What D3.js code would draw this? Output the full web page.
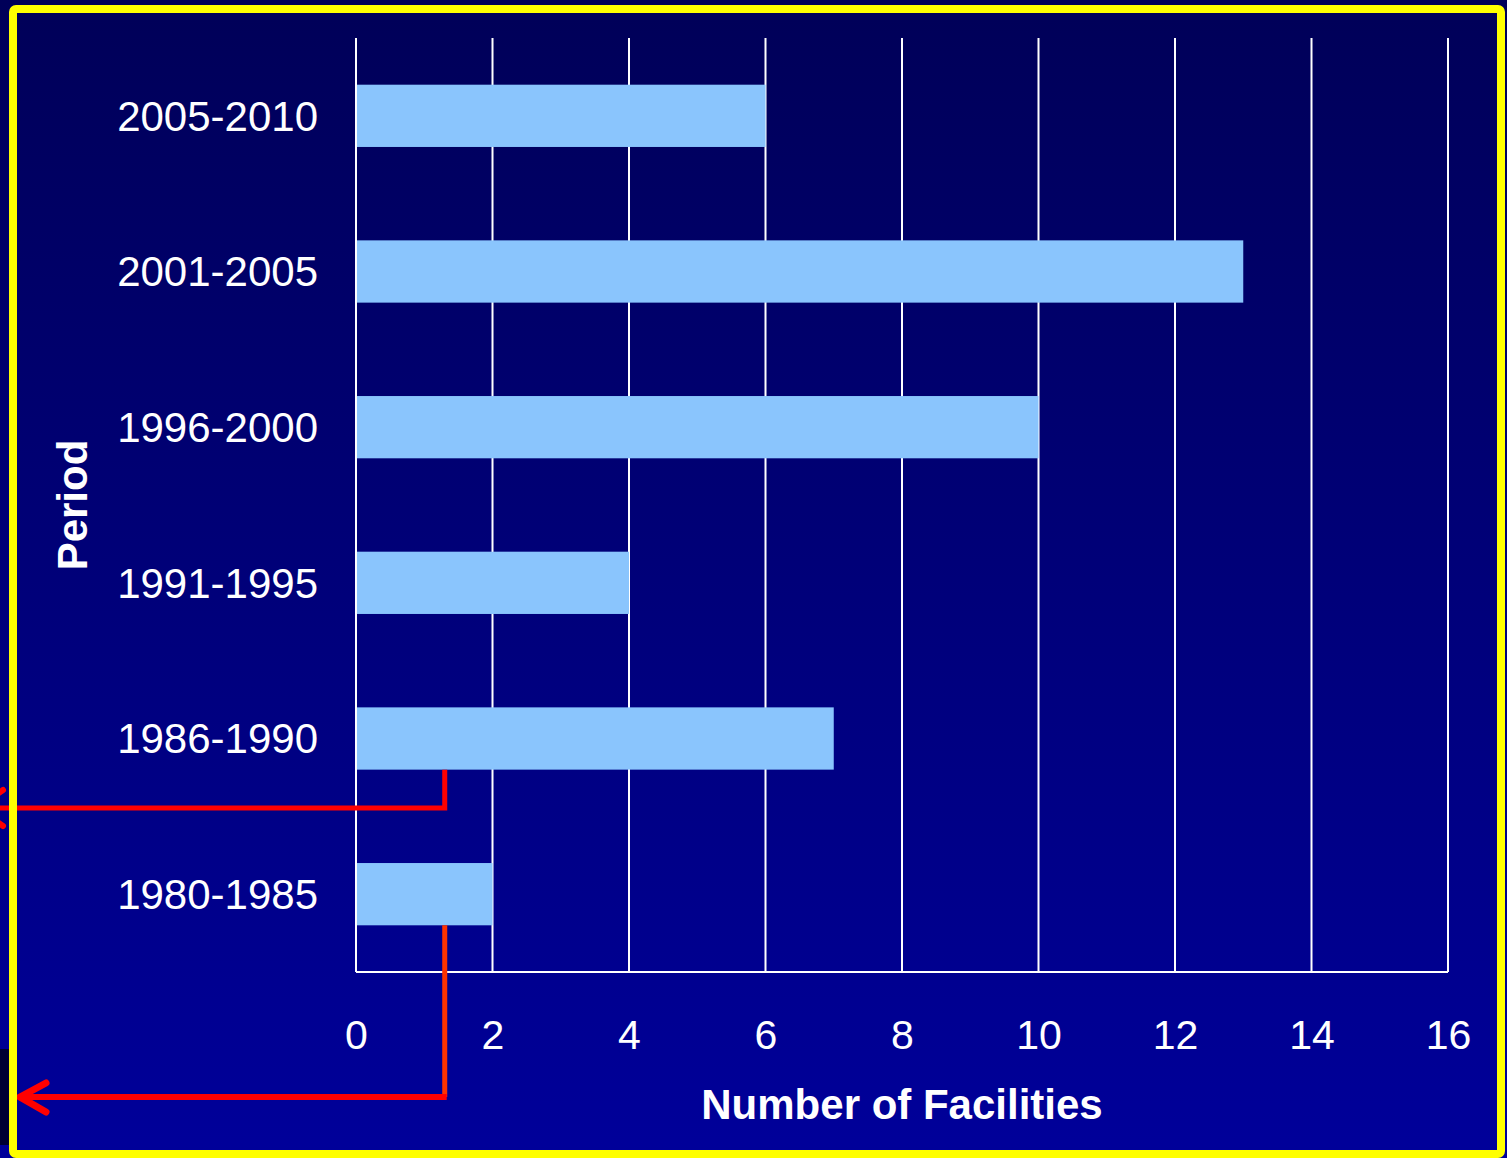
<!DOCTYPE html>
<html lang="en">
<head>
<meta charset="UTF-8">
<title>Facilities by period</title>
<script src="https://cdnjs.cloudflare.com/ajax/libs/d3/7.8.5/d3.min.js"></script>
<style>
    body { margin: 0; background: #00005a; }
    svg { display: block; }
    text { font-family: "Liberation Sans", Arial, sans-serif; fill: #fff; }
</style>
</head>
<body>
<script>
    // data
    var periods = ["2005-2010", "2001-2005", "1996-2000", "1991-1995", "1986-1990", "1980-1985"];
    var counts = [6, 13, 10, 4, 7, 2];
    var xTicks = [0, 2, 4, 6, 8, 10, 12, 14, 16];

    var W = 1507, H = 1158;
    var margin = { top: 38, right: 59, bottom: 186, left: 356 };
    var width = W - margin.left - margin.right,
        height = H - margin.top - margin.bottom;

    var svg = d3.select("body").append("svg")
        .attr("width", W)
        .attr("height", H);

    // background gradient
    var grad = svg.append("defs").append("linearGradient")
        .attr("id", "bg").attr("x1", 0).attr("y1", 0).attr("x2", 0).attr("y2", 1);
    grad.append("stop").attr("offset", "0%").attr("stop-color", "#000058");
    grad.append("stop").attr("offset", "100%").attr("stop-color", "#00009a");
    svg.append("rect").attr("width", W).attr("height", H).attr("fill", "url(#bg)");
    // dark strip bottom-left outside the frame
    svg.append("rect").attr("x", 0).attr("y", 1049).attr("width", 9).attr("height", 96).attr("fill", "#000033");

    var x = d3.scaleLinear().domain([0, 16]).range([0, width]);
    var y = d3.scaleBand().domain(periods).range([0, height]).paddingInner(0.6).paddingOuter(0.3);

    var g = svg.append("g").attr("transform", "translate(" + margin.left + "," + margin.top + ")");

    // vertical grid lines
    g.selectAll(".grid").data(xTicks).enter().append("line")
        .attr("x1", function(d) { return x(d); })
        .attr("x2", function(d) { return x(d); })
        .attr("y1", 0).attr("y2", height)
        .style("stroke", "#fff").style("stroke-width", 2);

    // bars
    g.selectAll(".bar").data(periods).enter().append("rect")
        .attr("x", x(0))
        .attr("y", function(d) { return y(d); })
        .attr("width", function(d, i) { return x(counts[i]); })
        .attr("height", y.bandwidth())
        .style("fill", "#8ac5fd");

    // axis lines
    g.append("line").attr("x1", 0).attr("x2", width).attr("y1", height).attr("y2", height)
        .style("stroke", "#fff").style("stroke-width", 2);
    g.append("line").attr("x1", 0).attr("x2", 0).attr("y1", 0).attr("y2", height)
        .style("stroke", "#fff").style("stroke-width", 2);

    // tick labels
    var xAxis = d3.axisBottom(x).tickValues(xTicks).tickSize(0).tickPadding(0);
    var xg = g.append("g").attr("transform", "translate(0," + height + ")").call(xAxis);
    xg.select(".domain").remove();
    xg.selectAll("text").attr("y", 77).attr("dy", 0)
        .style("font-size", "41px").style("fill", "#fff")
        .style("font-family", "'Liberation Sans', Arial, sans-serif");

    var yAxis = d3.axisLeft(y).tickSize(0).tickPadding(38);
    var yg = g.append("g").call(yAxis);
    yg.select(".domain").remove();
    yg.selectAll("text").attr("dy", "0.35em")
        .style("font-size", "42px").style("fill", "#fff")
        .style("font-family", "'Liberation Sans', Arial, sans-serif");

    // axis titles
    svg.append("text")
        .attr("x", margin.left + width / 2)
        .attr("y", 1119)
        .attr("text-anchor", "middle")
        .style("font-size", "42px").style("font-weight", "bold")
        .text("Number of Facilities");

    svg.append("text")
        .attr("transform", "translate(87," + (margin.top + height / 2) + ") rotate(-90)")
        .attr("text-anchor", "middle")
        .style("font-size", "42px").style("font-weight", "bold")
        .text("Period");

    // red annotation arrows
    var ax = margin.left + x(1.3);
    var b1 = margin.top + y("1986-1990") + y.bandwidth();
    var b2 = margin.top + y("1980-1985") + y.bandwidth();
    var red = "#ff0000";

    svg.append("path")
        .attr("d", "M" + ax + "," + b1 + "V808H-2")
        .style("fill", "none").style("stroke", red).style("stroke-width", 5);
    svg.append("path")
        .attr("d", "M3,790L-22,808L3,826")
        .style("fill", "none").style("stroke", red).style("stroke-width", 6).style("stroke-linecap", "round");

    svg.append("path")
        .attr("d", "M" + ax + "," + b2 + "V1097")
        .style("fill", "none").style("stroke", "#ff3300").style("stroke-width", 5);
    svg.append("path")
        .attr("d", "M" + (ax + 2) + ",1097H20")
        .style("fill", "none").style("stroke", red).style("stroke-width", 6);
    svg.append("path")
        .attr("d", "M46,1083L20,1097L46,1112")
        .style("fill", "none").style("stroke", red).style("stroke-width", 7).style("stroke-linecap", "round");

    // yellow frame
    svg.append("rect")
        .attr("x", 13).attr("y", 9)
        .attr("width", 1488).attr("height", 1145)
        .attr("rx", 3)
        .style("fill", "none").style("stroke", "#ffff00").style("stroke-width", 8);
</script>
</body>
</html>
